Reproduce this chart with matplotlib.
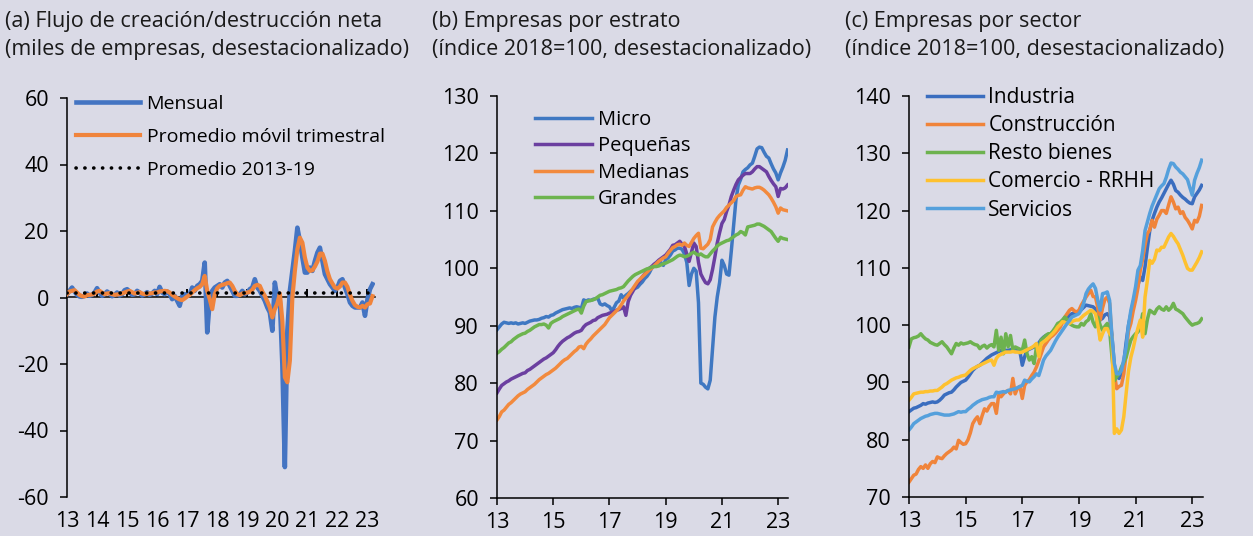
import numpy as np
import matplotlib as mpl
import matplotlib.pyplot as plt
from matplotlib.ticker import NullFormatter

mpl.rcParams.update({
    "font.family": ["Open Sans", "DejaVu Sans"],
    "font.size": 14,
    "axes.spines.top": False,
    "axes.spines.right": False,
    "axes.linewidth": 1.1,
    "axes.unicode_minus": False,
    "legend.frameon": False,
})

BG = "#dadae6"

# ---- (a) net creation/destruction, thousands of firms, monthly from Jan 2013
mensual = [
    1.0, 2.0, 3.0, 1.8, 0.8, 0.3, 0.2, 0.5, 1.2, 0.5, 0.8, 1.5,
    2.8, 1.5, 0.5, 1.0, 1.8, 1.2, 0.4, 0.8, 1.5, 0.6, 1.0, 2.2,
    2.5, 1.8, 0.8, 1.0, 2.0, 1.5, 0.6, 1.0, 1.6, 0.8, 1.2, 2.0,
    1.0, 3.2, 1.5, 1.0, 1.8, 1.0, -0.5, 0.5, -1.0, -2.5, 0.5, 1.0,
    0.5, 1.0, 3.0, 2.0, 3.5, 4.0, 5.0, 10.5, -10.5, -1.0, 2.0, 3.0,
    3.5, 4.0, 3.0, 4.5, 5.0, 3.5, 2.0, 0.5, 0.5, 1.0, 2.0, 1.0,
    1.5, 2.5, 3.0, 5.5, 3.0, 2.0, 0.5, -1.0, -3.0, -4.5, -10.0, 4.5,
    0.0, -1.0, -20.0, -51.0, -10.0, 2.0, 8.0, 14.0, 21.0, 17.0, 12.0, 7.5,
    7.5, 9.0, 8.0, 11.0, 13.5, 15.0, 11.0, 7.0, 5.5, 4.0, 3.0, 2.0,
    3.0, 5.0, 5.5, 3.0, 1.0, -1.5, -2.5, -3.0, -3.0, -3.0, -1.5, -5.5,
    -0.5, 2.5, 4.0,
]
movil_trim = [
    1.0, 1.8, 2.0, 2.2, 1.5, 0.8, 0.4, 0.3, 0.7, 0.8, 0.9, 1.2,
    1.8, 2.0, 1.5, 1.0, 1.2, 1.3, 1.0, 0.8, 0.9, 1.0, 1.2, 1.5,
    1.8, 2.0, 1.6, 1.2, 1.4, 1.6, 1.2, 1.0, 1.1, 1.2, 1.3, 1.5,
    1.5, 1.8, 1.9, 2.0, 1.9, 1.5, 0.8, 0.3, -0.2, -0.6, -0.8, -0.3,
    0.3, 0.8, 1.5, 2.2, 2.8, 3.2, 4.0, 6.5, 2.0, -0.5, -3.5, 1.0,
    2.8, 3.5, 3.8, 4.0, 4.3, 4.5, 3.5, 2.0, 1.0, 0.7, 1.2, 1.3,
    1.5, 1.7, 2.3, 3.5, 3.8, 3.5, 1.8, 0.5, -1.2, -3.0, -6.0, -3.5,
    -1.8, 1.2, -7.0, -24.0, -25.5, -19.0, 0.0, 8.0, 14.5, 18.0, 16.5, 12.0,
    9.0, 8.0, 8.2, 9.3, 10.8, 13.2, 13.2, 11.0, 7.8, 5.5, 4.2, 3.0,
    2.7, 3.3, 4.5, 4.5, 3.2, 0.8, -1.0, -2.3, -2.8, -3.0, -2.5, -3.0,
    -2.0, -1.8, 0.4,
]
promedio_2013_19 = 1.5

# ---- (b) firms by size, index 2018=100, monthly from Jan 2013
micro = [
    89.3, 89.8, 90.3, 90.6, 90.5, 90.4, 90.5, 90.4, 90.5, 90.3, 90.4, 90.5,
    90.4, 90.6, 90.8, 90.9, 91.0, 91.0, 91.1, 91.3, 91.4, 91.6, 91.5, 91.8,
    91.9, 92.2, 92.4, 92.6, 92.8, 92.9, 93.0, 93.1, 93.0, 93.2, 93.3, 93.2,
    93.0, 94.5, 94.3, 94.5, 94.4, 94.6, 94.7, 94.8, 93.8, 93.6, 93.8, 93.5,
    93.3, 92.6, 93.2, 94.0, 94.3, 95.4, 94.8, 95.3, 95.6, 96.0, 96.3, 96.5,
    96.7, 97.2, 97.6, 98.2, 98.6, 99.2, 100.0, 100.4, 100.6, 100.8, 101.0, 100.5,
    101.5, 101.8, 102.3, 103.0, 103.2, 103.5, 103.5, 103.3, 102.5, 101.0, 97.0, 99.0,
    100.0, 99.5, 94.0, 80.0, 79.8, 79.3, 79.0, 80.5, 86.0, 91.5, 95.0, 97.5,
    101.4, 100.5, 99.0, 98.8, 103.0, 107.5, 112.0, 114.5, 115.5, 116.8, 117.2, 117.5,
    118.0, 118.3, 119.5, 120.8, 121.1, 121.0, 120.2, 119.5, 119.2, 118.2, 117.3, 116.6,
    115.4, 116.6, 117.6, 118.8, 120.6,
]
pequenas = [
    78.3, 79.0, 79.6, 79.9, 80.2, 80.4, 80.7, 80.9, 81.1, 81.3, 81.5, 81.7,
    81.8, 82.2, 82.4, 82.7, 83.0, 83.3, 83.6, 83.9, 84.2, 84.4, 84.7, 85.0,
    85.3, 85.8, 86.4, 86.9, 87.3, 87.6, 87.9, 88.1, 88.4, 88.7, 88.9, 89.0,
    89.2, 89.8, 90.2, 90.4, 90.6, 90.9, 91.0, 91.4, 91.6, 91.8, 91.9, 92.0,
    92.2, 92.3, 92.5, 92.7, 92.8, 93.0, 93.3, 91.8, 94.2, 95.3, 96.0, 96.8,
    97.4, 97.9, 98.5, 99.0, 99.6, 100.0, 100.3, 100.7, 101.0, 101.4, 101.7, 102.0,
    102.3, 102.8, 103.3, 104.0, 104.1, 104.4, 104.7, 104.2, 103.8, 102.5, 101.2, 102.8,
    104.4, 103.8, 101.0, 99.0, 98.2, 97.5, 97.3, 98.0, 99.8, 102.0, 104.4, 106.2,
    107.8, 108.5, 109.9, 111.0, 112.5, 113.6, 114.6, 115.4, 115.8, 116.2, 116.5, 116.5,
    116.5, 116.8, 117.3, 117.7, 117.7, 117.4, 117.1, 116.8, 116.0, 115.3, 114.7, 114.2,
    112.5, 113.9, 113.8, 114.0, 114.5,
]
medianas = [
    73.6, 74.2, 75.0, 75.3, 75.8, 76.3, 76.6, 77.0, 77.4, 77.8, 78.1, 78.3,
    78.5, 78.9, 79.2, 79.5, 79.8, 80.2, 80.6, 80.9, 81.2, 81.5, 81.7, 82.0,
    82.3, 82.6, 83.0, 83.4, 83.8, 84.1, 84.3, 84.7, 85.1, 85.5, 85.8, 86.3,
    86.4, 86.0, 86.8, 87.3, 87.7, 88.2, 88.6, 89.0, 89.4, 89.8, 90.2, 90.8,
    91.4, 91.8, 92.2, 92.6, 93.0, 93.6, 94.3, 94.8, 95.3, 95.9, 96.5, 97.1,
    97.7, 98.1, 98.5, 98.9, 99.3, 99.7, 100.0, 100.4, 100.8, 101.2, 101.5, 101.8,
    102.0, 102.6, 103.1, 103.6, 103.8, 104.1, 104.2, 104.0, 104.4, 104.0, 103.8, 104.5,
    105.2, 105.7, 106.1, 103.5, 103.4, 103.8, 104.2, 105.0, 107.2, 108.0, 108.7, 109.2,
    109.6, 110.0, 110.6, 111.0, 111.4, 111.8, 112.5, 112.7, 112.8, 113.6, 114.2, 114.0,
    113.9, 113.8, 114.0, 114.1, 114.1, 113.9, 113.6, 113.2, 112.8, 112.2, 111.5, 110.7,
    109.6, 110.5, 110.2, 110.1, 110.0,
]
grandes = [
    85.2, 85.5, 85.9, 86.2, 86.6, 87.0, 87.2, 87.6, 87.9, 88.2, 88.4, 88.6,
    88.7, 89.0, 89.2, 89.5, 89.8, 90.0, 90.2, 90.2, 90.3, 90.1, 89.6, 90.4,
    90.7, 90.9, 91.1, 91.3, 91.6, 91.8, 92.0, 92.2, 92.4, 92.6, 92.8, 92.9,
    92.2, 93.4, 94.2, 94.3, 94.4, 94.5, 94.7, 95.0, 95.3, 95.4, 95.6, 95.8,
    96.0, 96.1, 96.2, 96.3, 96.5, 96.6, 96.8, 97.3, 97.8, 98.2, 98.6, 98.9,
    99.1, 99.3, 99.5, 99.7, 99.9, 100.0, 100.2, 100.3, 100.3, 100.4, 100.6, 100.8,
    100.9, 101.1, 101.3, 101.5, 101.8, 102.1, 102.3, 102.2, 102.0, 102.1, 102.3, 102.6,
    102.8, 102.5, 102.3, 102.5, 102.2, 102.0, 102.0, 102.5, 103.0, 103.4, 103.9, 104.2,
    104.4, 104.6, 104.8, 104.9, 105.2, 105.5, 105.8, 106.0, 106.4, 106.2, 105.8, 107.2,
    107.3, 107.4, 107.5, 107.7, 107.7, 107.5, 107.3, 107.0, 106.7, 106.4, 105.8, 105.2,
    104.7, 105.4, 105.2, 105.1, 105.0,
]

# ---- (c) firms by sector, index 2018=100, monthly from Jan 2013
industria = [
    84.9, 85.2, 85.5, 85.6, 85.8, 86.0, 86.3, 86.2, 86.4, 86.5, 86.6, 86.5,
    86.6, 86.9, 87.3, 87.8, 88.0, 88.2, 88.3, 88.7, 89.2, 89.6, 90.0, 90.2,
    90.4, 90.9, 91.5, 92.1, 92.5, 92.8, 93.0, 93.4, 93.8, 94.2, 94.5, 94.8,
    95.0, 95.2, 95.4, 95.6, 95.5, 95.6, 95.6, 95.7, 95.8, 95.9, 95.8, 95.4,
    93.0, 94.5, 95.6, 95.8, 96.0, 96.2, 96.5, 96.9, 97.5, 97.9, 98.2, 98.3,
    98.5, 98.8, 99.2, 99.7, 100.1, 100.5, 100.9, 101.3, 101.7, 102.0, 102.1, 102.2,
    102.3, 102.7, 103.1, 103.5, 103.4, 103.3, 103.2, 102.8, 102.0, 100.9, 101.2, 101.8,
    102.0, 101.5, 98.0, 93.0, 91.0, 90.7, 91.5, 93.5, 97.0, 100.0, 102.0, 104.0,
    105.5, 107.0, 108.4, 107.8, 110.2, 113.5, 116.5, 118.3, 119.5, 120.6, 121.5, 122.2,
    123.0, 123.8, 124.6, 125.3, 124.6, 123.5, 123.2, 122.7, 122.3, 122.0, 121.6, 121.3,
    121.2, 122.4, 123.0, 123.6, 124.4,
]
construccion = [
    72.6, 73.2, 73.8, 74.0, 74.8, 75.3, 75.0, 75.6, 75.0, 75.8, 76.2, 76.0,
    77.0, 76.8, 76.7, 77.2, 77.6, 77.9, 78.2, 78.7, 78.4, 79.9, 79.5, 79.2,
    79.3, 80.0, 81.2, 82.8, 83.5, 84.0, 82.8, 84.2, 85.4, 85.0, 85.8, 86.3,
    86.3, 84.6, 87.8, 87.5, 88.0, 88.4, 88.6, 88.0, 90.7, 88.0, 89.0, 89.3,
    87.2, 89.5, 90.1, 90.5, 91.2, 91.8, 92.7, 93.8, 95.0, 96.2, 96.8, 97.4,
    97.9, 98.2, 98.6, 99.1, 99.6, 100.4, 101.4, 102.0, 102.6, 102.9, 102.5, 102.3,
    102.6, 103.5, 104.2, 104.9, 105.5, 106.1, 105.0, 104.9, 103.0, 100.9, 103.0, 104.5,
    104.9, 103.8, 97.4, 91.5, 88.9, 89.3, 89.5, 91.5, 95.0, 99.0, 100.3, 102.5,
    104.3, 106.5, 109.6, 111.5, 114.0, 116.0, 116.6, 118.3, 117.1, 118.5, 119.2, 120.0,
    120.0, 119.5, 121.0, 122.4, 121.5, 120.3, 120.6, 119.5, 119.8, 118.8, 118.3, 117.6,
    116.8, 118.3, 118.0, 119.0, 120.9,
]
resto_bienes = [
    96.2, 97.6, 97.8, 97.9, 98.1, 98.5, 98.0, 97.6, 97.4, 97.0, 96.8, 96.6,
    96.5, 96.8, 97.1, 96.6, 96.2, 95.6, 95.0, 96.0, 96.8, 96.5, 96.9, 96.7,
    96.8, 96.9, 97.1, 96.8, 96.6, 96.5, 95.9, 96.3, 96.5, 96.0, 96.4, 96.6,
    96.2, 99.1, 95.6, 97.9, 95.0, 98.5, 96.2, 98.2, 95.6, 96.2, 96.0, 95.8,
    95.6, 97.4, 95.0, 93.9, 94.5, 93.3, 96.2, 96.0, 97.4, 97.8, 98.2, 98.5,
    98.5, 99.0, 99.6, 100.3, 100.5, 100.9, 101.4, 101.0, 100.3, 100.0, 99.8, 99.7,
    99.7, 100.3, 100.0, 100.6, 100.9, 102.0, 100.5, 99.7, 101.4, 100.0, 99.1, 99.8,
    100.3, 99.1, 94.4, 90.3, 91.0, 91.5, 92.7, 93.5, 94.4, 96.0, 97.4, 98.0,
    98.5, 98.8, 99.7, 102.0, 98.5, 101.0, 102.6, 102.3, 102.0, 102.8, 103.2, 102.8,
    102.6, 103.2, 102.6, 103.0, 103.8, 102.8, 102.6, 102.3, 102.0, 101.4, 100.9, 100.4,
    100.0, 100.2, 100.3, 100.5, 101.1,
]
comercio_rrhh = [
    86.9, 87.4, 88.0, 88.1, 88.2, 88.3, 88.3, 88.4, 88.4, 88.5, 88.5, 88.6,
    88.6, 88.9, 89.2, 89.6, 89.8, 90.1, 90.4, 90.6, 90.8, 90.9, 91.1, 91.2,
    91.3, 91.7, 92.1, 92.4, 92.6, 92.8, 93.0, 93.2, 93.4, 93.6, 93.8, 93.9,
    93.0, 94.2, 94.7, 94.9, 95.1, 95.3, 95.3, 95.3, 95.4, 95.3, 95.3, 95.2,
    95.3, 95.5, 95.7, 95.9, 96.1, 96.4, 96.8, 94.5, 96.8, 97.1, 97.4, 97.8,
    98.2, 98.6, 99.1, 99.7, 100.1, 100.6, 100.5, 100.3, 100.3, 100.6, 100.8, 100.9,
    100.9, 101.3, 101.7, 102.0, 102.3, 102.6, 102.4, 102.0, 100.0, 97.4, 98.5, 99.4,
    99.4, 98.5, 98.0, 81.1, 81.9, 81.1, 81.7, 84.0, 88.1, 92.0, 94.4, 96.0,
    97.9, 99.5, 100.9, 97.9, 104.9, 107.8, 111.3, 110.8, 111.5, 113.1, 113.0, 113.6,
    113.6, 114.5, 115.4, 116.0, 115.5, 114.8, 114.2, 113.2, 112.2, 111.0, 109.9, 109.6,
    109.6, 110.3, 111.0, 111.8, 112.8,
]
servicios = [
    81.7, 82.2, 82.8, 83.1, 83.4, 83.7, 83.9, 84.1, 84.2, 84.4, 84.5, 84.6,
    84.6, 84.5, 84.4, 84.3, 84.3, 84.3, 84.4, 84.5, 84.7, 84.9, 84.8, 84.9,
    84.9, 85.3, 85.6, 86.0, 86.3, 86.6, 86.8, 87.0, 87.1, 87.2, 87.4, 87.5,
    87.5, 88.3, 88.2, 88.3, 88.4, 88.3, 88.6, 88.7, 88.8, 88.9, 89.1, 89.3,
    89.5, 90.4, 90.2, 90.1, 90.6, 91.0, 91.5, 91.2, 92.5, 93.9, 94.6, 95.1,
    95.6, 96.4, 97.2, 97.9, 98.5, 99.1, 99.7, 100.3, 100.8, 101.4, 101.6, 101.8,
    102.0, 102.7, 103.8, 105.5, 106.3, 106.8, 107.2, 106.4, 104.3, 102.6, 105.5, 105.6,
    105.8, 104.3, 97.9, 93.3, 91.5, 91.5, 92.1, 94.0, 96.2, 100.0, 102.6, 104.5,
    106.7, 109.6, 110.4, 113.0, 116.5, 118.0, 119.5, 120.8, 121.8, 122.8, 123.8, 124.3,
    124.7, 125.8, 127.2, 128.3, 128.2, 127.6, 127.2, 126.7, 126.4, 125.9, 125.4, 124.0,
    122.7, 125.3, 126.5, 127.5, 128.8,
]

years_a = list(range(13, 24))
years_bc = [13, 15, 17, 19, 21, 23]


def months(vals):
    # monthly series starting January 2013, x in two-digit years
    return 13 + np.arange(len(vals)) / 12


def style_axis(ax):
    ax.set_facecolor(BG)
    ax.tick_params(axis="both", direction="out", length=5, width=1.1, color="black", labelsize=15.5)
    ax.tick_params(axis="y", pad=8)
    ax.tick_params(axis="x", pad=5)


fig = plt.figure(figsize=(12.53, 5.36), dpi=100, facecolor=BG)

titles = [
    (5, "(a) Flujo de creación/destrucción neta", "(miles de empresas, desestacionalizado)"),
    (432, "(b) Empresas por estrato", "(índice 2018=100, desestacionalizado)"),
    (845, "(c) Empresas por sector", "(índice 2018=100, desestacionalizado)"),
]
for px, l1, l2 in titles:
    fig.text(px / 1253, 1 - 21 / 536, l1, ha="left", va="center", fontsize=15.5, color="#1a1a1a")
    fig.text(px / 1253, 1 - 49 / 536, l2, ha="left", va="center", fontsize=15.5, color="#1a1a1a")

# ---------------- panel (a)
ax1 = fig.add_axes([67 / 1253, 1 - 497 / 536, 308 / 1253, 399 / 536])
style_axis(ax1)
ax1.plot(months(mensual), mensual, color="#4474c2", lw=3.3, label="Mensual", zorder=2)
ax1.plot(months(movil_trim), movil_trim, color="#f0843c", lw=3.0, label="Promedio móvil trimestral", zorder=3)
xa = months(mensual)
ax1.plot([xa[0], xa[-1]], [promedio_2013_19] * 2, color="black", lw=2.6,
         linestyle=(0, (0.05, 2.4)), dash_capstyle="round", label="Promedio 2013-19", zorder=4)
ax1.set_xlim(13, 23.25)
ax1.set_ylim(-60, 60)
ax1.set_yticks([-60, -40, -20, 0, 20, 40, 60])
ax1.set_xticks(years_a)
ax1.spines["bottom"].set_visible(False)
ax1.tick_params(axis="x", length=0, pad=10)
zero = ax1.secondary_xaxis(0.5)
zero.spines["bottom"].set_linewidth(1.6)
zero.set_xticks(years_a[1:])
zero.xaxis.set_major_formatter(NullFormatter())
zero.tick_params(axis="x", direction="out", length=6, width=1.4)
ax1.legend(loc="upper left", bbox_to_anchor=(0.028, 1.008), borderpad=0, borderaxespad=0,
           handlelength=3.3, handletextpad=0.35, labelspacing=0.78, fontsize=14)

# ---------------- panel (b)
ax2 = fig.add_axes([497 / 1253, 1 - 498 / 536, 291 / 1253, 402 / 536])
style_axis(ax2)
ax2.plot(months(micro), micro, color="#3f78c2", lw=2.5, label="Micro")
ax2.plot(months(pequenas), pequenas, color="#6b3fa0", lw=2.5, label="Pequeñas")
ax2.plot(months(medianas), medianas, color="#f28a3e", lw=2.5, label="Medianas")
ax2.plot(months(grandes), grandes, color="#6db44f", lw=2.5, label="Grandes")
ax2.set_xlim(13, 23.35)
ax2.set_ylim(60, 130)
ax2.set_yticks(range(60, 131, 10))
ax2.set_xticks(years_bc)
ax2.legend(loc="upper left", bbox_to_anchor=(0.131, 0.965), borderpad=0, borderaxespad=0,
           handlelength=2.8, handletextpad=0.3, labelspacing=0.31, fontsize=14.5)

# ---------------- panel (c)
ax3 = fig.add_axes([909 / 1253, 1 - 497 / 536, 294 / 1253, 401 / 536])
style_axis(ax3)
ax3.plot(months(industria), industria, color="#3a6dbf", lw=2.5, label="Industria")
ax3.plot(months(construccion), construccion, color="#f0843a", lw=2.5, label="Construcción")
ax3.plot(months(resto_bienes), resto_bienes, color="#6db24f", lw=2.5, label="Resto bienes")
ax3.plot(months(comercio_rrhh), comercio_rrhh, color="#fec12f", lw=2.5, label="Comercio - RRHH")
ax3.plot(months(servicios), servicios, color="#55a0dc", lw=2.5, label="Servicios")
ax3.set_xlim(13, 23.38)
ax3.set_ylim(70, 140)
ax3.set_yticks(range(70, 141, 10))
ax3.set_xticks(years_bc)
ax3.legend(loc="upper left", bbox_to_anchor=(0.061, 1.022), borderpad=0, borderaxespad=0,
           handlelength=2.7, handletextpad=0.25, labelspacing=0.34, fontsize=15)

fig.savefig("out.png", dpi=100, facecolor=BG)
